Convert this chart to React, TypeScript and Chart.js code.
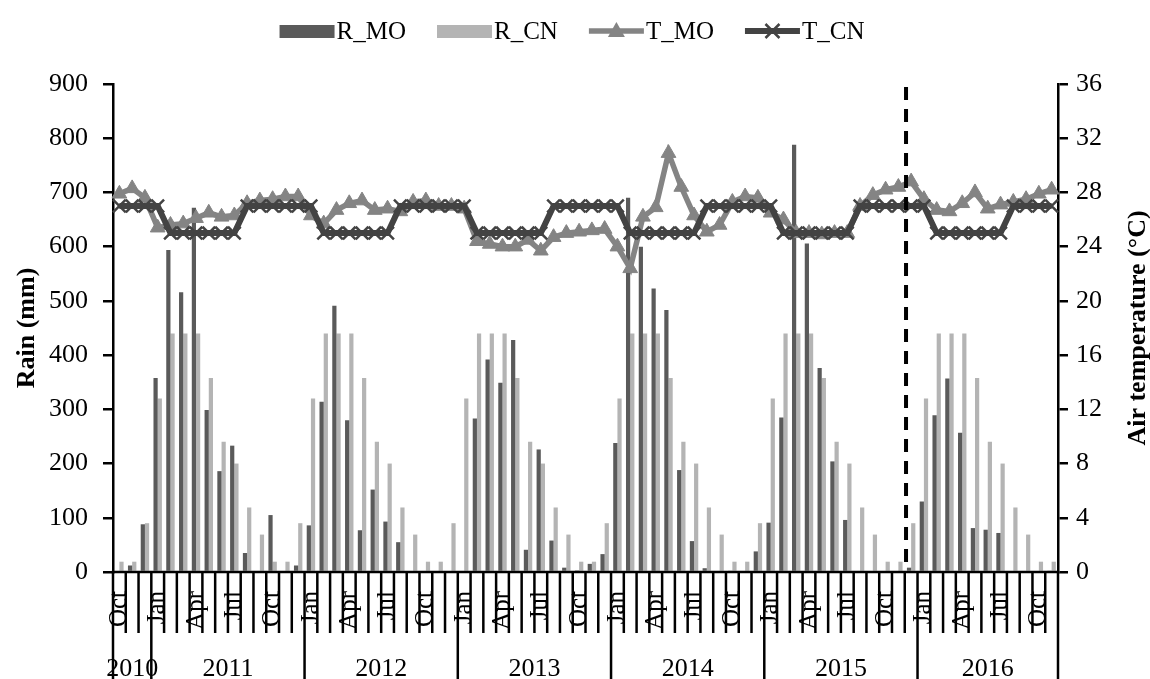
import React, { useEffect, useRef } from "react";
import { Chart, registerables } from "chart.js";

Chart.register(...registerables);

const SERIF = "'Liberation Serif', 'Times New Roman', Times, serif";

// Monthly categories: Oct 2010 .. Nov 2016
const MONTHS = [
  "Oct", "Nov", "Dec",
  "Jan", "Feb", "Mar", "Apr", "May", "Jun", "Jul", "Aug", "Sep", "Oct", "Nov", "Dec",
  "Jan", "Feb", "Mar", "Apr", "May", "Jun", "Jul", "Aug", "Sep", "Oct", "Nov", "Dec",
  "Jan", "Feb", "Mar", "Apr", "May", "Jun", "Jul", "Aug", "Sep", "Oct", "Nov", "Dec",
  "Jan", "Feb", "Mar", "Apr", "May", "Jun", "Jul", "Aug", "Sep", "Oct", "Nov", "Dec",
  "Jan", "Feb", "Mar", "Apr", "May", "Jun", "Jul", "Aug", "Sep", "Oct", "Nov", "Dec",
  "Jan", "Feb", "Mar", "Apr", "May", "Jun", "Jul", "Aug", "Sep", "Oct", "Nov",
];
const YEARS = ["2010", "2011", "2012", "2013", "2014", "2015", "2016"];
const LABELED_MONTHS = ["Oct", "Jan", "Apr", "Jul"];

// Rain (mm)
const R_MO = [
  0, 12, 88,
  358, 594, 516, 672, 299, 186, 233, 35, 0, 105, 0, 12,
  86, 314, 491, 280, 77, 152, 93, 55, 0, 0, 0, 0,
  0, 283, 392, 349, 428, 41, 226, 58, 8, 3, 15, 33,
  238, 690, 600, 523, 483, 188, 57, 7, 0, 2, 0, 38,
  91, 285, 788, 606, 376, 204, 96, 0, 0, 0, 0, 8,
  130, 289, 357, 257, 81, 78, 72, 0, 0, 0, 2,
];
const R_CN = [
  19, 19, 90,
  320, 440, 440, 440, 358, 240, 200, 119, 69, 19, 19, 90,
  320, 440, 440, 440, 358, 240, 200, 119, 69, 19, 19, 90,
  320, 440, 440, 440, 358, 240, 200, 119, 69, 19, 19, 90,
  320, 440, 440, 440, 358, 240, 200, 119, 69, 19, 19, 90,
  320, 440, 440, 440, 358, 240, 200, 119, 69, 19, 19, 90,
  320, 440, 440, 440, 358, 240, 200, 119, 69, 19, 19,
];
// Air temperature (°C)
const T_MO = [
  27.9, 28.3, 27.6,
  25.4, 25.6, 25.7, 26.1, 26.5, 26.2, 26.3, 27.2, 27.4, 27.5, 27.7, 27.7,
  26.3, 25.7, 26.7, 27.2, 27.4, 26.7, 26.8, 26.6, 27.3, 27.4, 27.0, 27.0,
  26.8, 24.4, 24.2, 24.0, 24.0, 24.5, 23.7, 24.7, 25.0, 25.1, 25.2, 25.3,
  24.0, 22.4, 26.2, 26.9, 30.9, 28.4, 26.3, 25.1, 25.6, 27.3, 27.7, 27.6,
  26.5, 26.0, 25.0, 25.0, 24.9, 25.0, 25.0, 27.0, 27.8, 28.2, 28.4, 28.8,
  27.5, 26.7, 26.6, 27.2, 28.0, 26.8, 27.1, 27.3, 27.5, 27.9, 28.2,
];
const T_CN = [
  27, 27, 27,
  27, 25, 25, 25, 25, 25, 25, 27, 27, 27, 27, 27,
  27, 25, 25, 25, 25, 25, 25, 27, 27, 27, 27, 27,
  27, 25, 25, 25, 25, 25, 25, 27, 27, 27, 27, 27,
  27, 25, 25, 25, 25, 25, 25, 27, 27, 27, 27, 27,
  27, 25, 25, 25, 25, 25, 25, 27, 27, 27, 27, 27,
  27, 25, 25, 25, 25, 25, 25, 27, 27, 27, 27,
];

const RAIN_AXIS = { min: 0, max: 900, step: 100, title: "Rain (mm)" };
const TEMP_AXIS = { min: 0, max: 36, step: 4, title: "Air temperature (°C)" };
const PERIOD_BREAK = 61.6; // category position of the dashed separator

const COLORS = {
  R_MO: "#5a5a5a",
  R_CN: "#b4b4b4",
  T_MO: "#848484",
  T_CN: "#434343",
};

const decorPlugin = {
  id: "decor",
  afterDatasetsDraw(chart: any) {
    const { ctx, chartArea: ca, scales } = chart;
    const xd = scales.x.getPixelForValue(PERIOD_BREAK);
    ctx.save();
    ctx.setLineDash([13, 9]);
    ctx.lineWidth = 4;
    ctx.strokeStyle = "#000";
    ctx.beginPath();
    ctx.moveTo(xd, ca.top + 3);
    ctx.lineTo(xd, ca.bottom);
    ctx.stroke();
    ctx.restore();
  },
  afterDraw(chart: any) {
    const { ctx, chartArea: ca, scales } = chart;
    const xs = scales.x;
    const n = MONTHS.length;
    const H = chart.height;
    ctx.save();
    ctx.strokeStyle = "#000";
    ctx.lineWidth = 2.5;
    ctx.beginPath();
    ctx.moveTo(ca.left - 1.25, ca.bottom);
    ctx.lineTo(ca.right + 1.25, ca.bottom);
    ctx.stroke();
    const bounds: number[] = [];
    for (let i = 0; i <= n; i++) {
      const bx = xs.getPixelForValue(i - 0.5);
      const isYear = i === 0 || i === n || MONTHS[i] === "Jan";
      if (isYear) bounds.push(bx);
      ctx.beginPath();
      ctx.moveTo(bx, ca.bottom);
      ctx.lineTo(bx, isYear ? H : ca.bottom + 61);
      ctx.stroke();
    }
    ctx.fillStyle = "#000";
    ctx.font = `25px ${SERIF}`;
    ctx.textAlign = "right";
    ctx.textBaseline = "middle";
    MONTHS.forEach((m, i) => {
      if (!LABELED_MONTHS.includes(m)) return;
      const cx = xs.getPixelForValue(i);
      ctx.save();
      ctx.translate(cx, ca.bottom + 19);
      ctx.rotate(-Math.PI / 2);
      ctx.fillText(m, 0, 0);
      ctx.restore();
    });
    ctx.font = `26px ${SERIF}`;
    ctx.textAlign = "center";
    ctx.textBaseline = "alphabetic";
    YEARS.forEach((y, i) => {
      const cx = (bounds[i] + bounds[i + 1]) / 2;
      ctx.fillText(y, cx, H - 3);
    });

    // axis titles
    const midY = (ca.top + ca.bottom) / 2;
    ctx.font = `bold 26px ${SERIF}`;
    ctx.textAlign = "center";
    ctx.textBaseline = "middle";
    ctx.save();
    ctx.translate(27, midY);
    ctx.rotate(-Math.PI / 2);
    ctx.fillText(RAIN_AXIS.title, 0, 0);
    ctx.restore();
    ctx.save();
    ctx.translate(1138, midY);
    ctx.rotate(-Math.PI / 2);
    ctx.fillText(TEMP_AXIS.title, 0, 0);
    ctx.restore();

    // legend
    const items = [
      { label: "R_MO", kind: "box", color: COLORS.R_MO },
      { label: "R_CN", kind: "box", color: COLORS.R_CN },
      { label: "T_MO", kind: "tri", color: COLORS.T_MO },
      { label: "T_CN", kind: "cross", color: COLORS.T_CN },
    ];
    ctx.font = `25px ${SERIF}`;
    const symW = 55, gap = 2, itemGap = 31;
    const widths = items.map((it) => symW + gap + ctx.measureText(it.label).width);
    const total = widths.reduce((a, b) => a + b, 0) + itemGap * (items.length - 1);
    let lx = 572 - total / 2;
    const ly = 31;
    items.forEach((it, i) => {
      if (it.kind === "box") {
        ctx.fillStyle = it.color;
        ctx.fillRect(lx, ly - 6, symW, 13);
      } else {
        ctx.strokeStyle = it.color;
        ctx.lineWidth = it.kind === "tri" ? 5.5 : 6;
        ctx.setLineDash([]);
        ctx.beginPath();
        ctx.moveTo(lx, ly);
        ctx.lineTo(lx + symW, ly);
        ctx.stroke();
        const mx = lx + symW / 2;
        if (it.kind === "tri") {
          ctx.fillStyle = it.color;
          ctx.beginPath();
          ctx.moveTo(mx, ly - 9);
          ctx.lineTo(mx + 8.5, ly + 6);
          ctx.lineTo(mx - 8.5, ly + 6);
          ctx.closePath();
          ctx.fill();
        } else {
          ctx.lineWidth = 2.5;
          ctx.beginPath();
          ctx.moveTo(mx - 7, ly - 7);
          ctx.lineTo(mx + 7, ly + 7);
          ctx.moveTo(mx + 7, ly - 7);
          ctx.lineTo(mx - 7, ly + 7);
          ctx.stroke();
        }
      }
      ctx.fillStyle = "#000";
      ctx.textAlign = "left";
      ctx.textBaseline = "middle";
      ctx.fillText(it.label, lx + symW + gap, ly + 1);
      lx += widths[i] + itemGap;
    });
    ctx.restore();
  },
};

export default function App() {
  const ref = useRef<HTMLCanvasElement>(null);
  useEffect(() => {
    document.body.style.margin = "0";
    const canvas = ref.current;
    if (!canvas) return;
    const chart = new Chart(canvas, {
      type: "bar",
      data: {
        labels: MONTHS,
        datasets: [
          {
            type: "line",
            label: "T_CN",
            data: T_CN,
            yAxisID: "y1",
            borderColor: COLORS.T_CN,
            borderWidth: 6,
            pointStyle: "crossRot",
            pointRadius: 9,
            pointBorderWidth: 2.5,
            pointBorderColor: COLORS.T_CN,
            pointBackgroundColor: COLORS.T_CN,
            tension: 0,
            order: 0,
          } as any,
          {
            type: "line",
            label: "T_MO",
            data: T_MO,
            yAxisID: "y1",
            borderColor: COLORS.T_MO,
            borderWidth: 5.5,
            pointStyle: "triangle",
            pointRadius: 8.5,
            pointBorderWidth: 1,
            pointBorderColor: COLORS.T_MO,
            pointBackgroundColor: COLORS.T_MO,
            tension: 0,
            order: 1,
          } as any,
          {
            type: "bar",
            label: "R_MO",
            data: R_MO,
            yAxisID: "y",
            backgroundColor: COLORS.R_MO,
            categoryPercentage: 0.66,
            barPercentage: 1,
            order: 2,
          } as any,
          {
            type: "bar",
            label: "R_CN",
            data: R_CN,
            yAxisID: "y",
            backgroundColor: COLORS.R_CN,
            categoryPercentage: 0.66,
            barPercentage: 1,
            order: 3,
          } as any,
        ],
      },
      options: {
        responsive: false,
        animation: false,
        devicePixelRatio: 1,
        layout: { padding: { top: 84, left: 0, right: 0, bottom: 0 } },
        plugins: { legend: { display: false }, tooltip: { enabled: false } },
        scales: {
          x: {
            offset: true,
            ticks: { display: false },
            grid: { display: false },
            border: { display: false },
            afterFit(s: any) {
              s.height = 107;
            },
          },
          y: {
            position: "left",
            min: RAIN_AXIS.min,
            max: RAIN_AXIS.max,
            ticks: {
              stepSize: RAIN_AXIS.step,
              color: "#000",
              padding: 15,
              font: { family: SERIF, size: 26 },
            },
            grid: {
              drawOnChartArea: false,
              drawTicks: true,
              tickLength: 10,
              color: "#000",
              lineWidth: 2.5,
            },
            border: { display: true, color: "#000", width: 2.5 },
            afterFit(s: any) {
              s.width = 113;
            },
          },
          y1: {
            position: "right",
            min: TEMP_AXIS.min,
            max: TEMP_AXIS.max,
            ticks: {
              stepSize: TEMP_AXIS.step,
              color: "#000",
              padding: 8,
              font: { family: SERIF, size: 26 },
            },
            grid: {
              drawOnChartArea: false,
              drawTicks: true,
              tickLength: 10,
              color: "#000",
              lineWidth: 2.5,
            },
            border: { display: true, color: "#000", width: 2.5 },
            afterFit(s: any) {
              s.width = 92;
            },
          },
        },
      } as any,
      plugins: [decorPlugin],
    });
    return () => chart.destroy();
  }, []);
  return (
    <div style={{ position: "absolute", left: 0, top: 0, width: 1150, height: 679, background: "#fff" }}>
      <canvas ref={ref} width={1150} height={679} style={{ display: "block", width: 1150, height: 679 }} />
    </div>
  );
}
